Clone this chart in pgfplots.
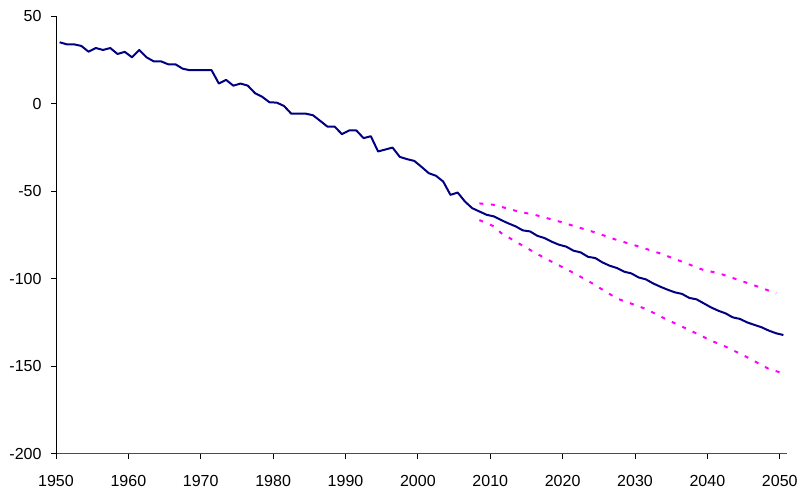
\documentclass[border=0pt]{standalone}
\usepackage{fontspec}
\setmainfont{Liberation Sans}
\usepackage{pgfplots}
\usepackage{pgfplotstable}
\pgfplotsset{compat=1.18}

\definecolor{navyline}{HTML}{000080}
\definecolor{bandpink}{HTML}{FF00FF}

% observed series and central projection
\pgfplotstableread{
year value
1950 35.0
1951 33.8
1952 33.8
1953 32.9
1954 29.6
1955 31.7
1956 30.6
1957 31.7
1958 28.3
1959 29.5
1960 26.4
1961 30.6
1962 26.4
1963 24.1
1964 24.1
1965 22.4
1966 22.4
1967 19.9
1968 19.0
1969 19.0
1970 19.0
1971 19.0
1972 11.4
1973 13.5
1974 10.2
1975 11.4
1976 10.2
1977 5.9
1978 3.8
1979 0.7
1980 0.5
1981 -1.4
1982 -5.8
1983 -5.8
1984 -5.8
1985 -6.7
1986 -9.9
1987 -13.2
1988 -13.2
1989 -17.5
1990 -15.4
1991 -15.4
1992 -19.8
1993 -18.7
1994 -27.4
1995 -26.3
1996 -25.2
1997 -30.5
1998 -31.8
1999 -32.8
2000 -36.2
2001 -39.8
2002 -41.3
2003 -44.6
2004 -52.2
2005 -50.9
2006 -56.0
2007 -59.8
2008 -61.7
2009 -63.6
2010 -64.5
2011 -66.6
2012 -68.5
2013 -70.2
2014 -72.5
2015 -73.1
2016 -75.6
2017 -76.9
2018 -79.0
2019 -80.7
2020 -81.8
2021 -84.1
2022 -85.1
2023 -87.6
2024 -88.3
2025 -90.8
2026 -92.7
2027 -94.0
2028 -96.1
2029 -97.1
2030 -99.4
2031 -100.5
2032 -102.8
2033 -104.7
2034 -106.4
2035 -107.9
2036 -108.8
2037 -111.1
2038 -111.9
2039 -114.2
2040 -116.5
2041 -118.4
2042 -119.9
2043 -122.2
2044 -123.1
2045 -125.1
2046 -126.5
2047 -127.9
2048 -129.8
2049 -131.3
2050 -132.3
}\central

% upper bound of the projection
\pgfplotstableread{
year value
2008 -57.1
2010 -57.9
2013 -61.3
2016 -64.0
2019 -67.4
2024 -73.7
2027 -78.0
2030 -81.7
2033 -85.7
2036 -90.4
2039 -95.2
2041 -96.9
2044 -101.1
2047 -105.4
2049 -108.5
}\upperband

% lower bound of the projection
\pgfplotstableread{
year value
2008 -66.6
2010 -70.2
2011 -74.0
2014 -81.3
2017 -88.3
2020 -94.6
2023 -101.3
2027 -111.4
2031 -117.4
2034 -123.7
2037 -129.4
2040 -135.5
2042 -138.9
2045 -145.0
2048 -151.7
2050 -154.2
}\lowerband

\begin{document}
\begin{tikzpicture}
\begin{axis}[
  scale only axis,
  width=731pt, height=437.5pt,
  xmin=1949.5, xmax=2050.5,
  ymin=-200, ymax=50,
  axis lines=left,
  axis line style={-, line width=0.8pt},
  y axis line style={black},
  x axis line style={black!70},
  xtick={1949.5,1959.5,1969.5,1979.5,1989.5,1999.5,2009.5,2019.5,2029.5,2039.5,2049.5},
  xticklabels={1950,1960,1970,1980,1990,2000,2010,2020,2030,2040,2050},
  ytick={-200,-150,-100,-50,0,50},
  tick align=outside,
  major tick length=5pt,
  tick style={black, line width=0.8pt},
  /pgf/number format/assume math mode=true,
  tick label style={font=\fontsize{16}{19}\selectfont, text=black},
  xticklabel style={yshift=-13pt},
  yticklabel style={xshift=-6pt},
]
\addplot[navyline, line width=2pt, line join=round] table[x=year, y=value] {\central};
\addplot[bandpink, line width=2pt, dash pattern=on 4pt off 7.5pt] table[x=year, y=value] {\upperband};
\addplot[bandpink, line width=2pt, dash pattern=on 4pt off 7.5pt] table[x=year, y=value] {\lowerband};
\end{axis}
\pgfresetboundingbox
\path[use as bounding box] ([shift={(-56pt,-37.5pt)}]current axis.south west) rectangle ([shift={(19pt,16pt)}]current axis.north east);
\end{tikzpicture}
\end{document}
